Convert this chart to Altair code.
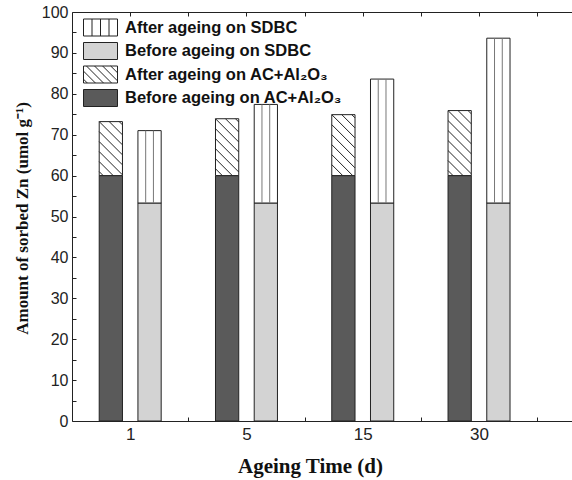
import json
import math
import altair as alt
import pandas as pd

# ---------------- data ----------------
days = ["1", "5", "15", "30"]
ac_before = [60.0, 60.0, 60.0, 60.0]
ac_after = [73.2, 73.9, 74.9, 75.9]
sdbc_before = [53.3, 53.3, 53.3, 53.3]
sdbc_after = [71.0, 77.4, 83.6, 93.6]

series = [
    "After ageing on SDBC",
    "Before ageing on SDBC",
    "After ageing on AC+Al₂O₃",
    "Before ageing on AC+Al₂O₃",
]
fills = ["#ffffff", "#d3d3d3", "#ffffff", "#5a5a5a"]

# ---------------- layout ----------------
W, H = 500, 409
X_DOM = [0.5, 4.8]
Y_DOM = [0, 100]
px_x = W / (X_DOM[1] - X_DOM[0])
px_y = H / (Y_DOM[1] - Y_DOM[0])
BAR_W = 0.2
AC_OFF = -0.266
SD_OFF = 0.067
HATCH_STEP = 10  # px

bars, vlines, diags = [], [], []
for i, d in enumerate(days):
    c = i + 1
    ax0 = c + AC_OFF
    ax1 = ax0 + BAR_W
    sx0 = c + SD_OFF
    sx1 = sx0 + BAR_W
    bars.append(dict(series=series[3], x0=ax0, x1=ax1, y0=0, y1=ac_before[i]))
    bars.append(dict(series=series[2], x0=ax0, x1=ax1, y0=ac_before[i], y1=ac_after[i]))
    bars.append(dict(series=series[1], x0=sx0, x1=sx1, y0=0, y1=sdbc_before[i]))
    bars.append(dict(series=series[0], x0=sx0, x1=sx1, y0=sdbc_before[i], y1=sdbc_after[i]))
    for k in (1, 2):
        vlines.append(dict(x=sx0 + BAR_W * k / 3, y0=sdbc_before[i], y1=sdbc_after[i]))
    w = BAR_W * px_x
    h = (ac_after[i] - ac_before[i]) * px_y
    for k in range(math.ceil(-h / HATCH_STEP), math.floor(w / HATCH_STEP) + 1):
        cc = k * HATCH_STEP
        u0 = max(0.0, cc)
        u1 = min(w, h + cc)
        if u1 - u0 < 0.5:
            continue
        v0, v1 = u0 - cc, u1 - cc
        diags.append(dict(xa=ax0 + u0 / px_x, xb=ax0 + u1 / px_x,
                          ya=ac_after[i] - v0 / px_y, yb=ac_after[i] - v1 / px_y))

bars_df = pd.DataFrame(bars)
vlines_df = pd.DataFrame(vlines)
diags_df = pd.DataFrame(diags)

# legend symbol paths: symbol size 17 px -> unit = 8.5 px; box x in [-1,3], y in [-1,1]
rect = "M-1,-1H3V1H-1Z"
vert = rect + " M0,-1V1 M1,-1V1 M2,-1V1"
dparts = [rect]
for cc in [-2.5, -1.55, -0.6, 0.35, 1.3, 2.25, 3.2]:
    a0 = max(-1.0, cc - 1.0)
    a1 = min(3.0, cc + 1.0)
    if a1 - a0 > 0.1:
        dparts.append(f"M{a0:.3f},{a0 - cc:.3f}L{a1:.3f},{a1 - cc:.3f}")
diag = " ".join(dparts)
paths = [vert, rect, diag, rect]

xscale = alt.Scale(domain=X_DOM, nice=False, zero=False)
yscale = alt.Scale(domain=Y_DOM, nice=False, zero=True)

half_vals = [1, 1.5, 2, 2.5, 3, 3.5, 4, 4.5]
label_expr = f"datum.value % 1 === 0 ? {json.dumps(days)}[datum.value - 1] : ''"

x_axis_bottom = alt.Axis(
    values=half_vals, labelExpr=label_expr, tickSize={"expr": "-4"},
    tickOpacity={"condition": {"test": "datum.value % 1 === 0", "value": 0}, "value": 1},
    tickColor="#222", domainColor="#222", domainWidth=1, grid=False,
    labelFont="Liberation Sans", labelFontSize=17, labelColor="#222", labelPadding=9,
    title="Ageing Time (d)", titleFont="Liberation Serif", titleFontSize=21,
    titleFontWeight="bold", titleColor="#111", titleX=238, titleY=51,
    titleBaseline="alphabetic", titleAlign="center",
)
x_axis_top = alt.Axis(
    orient="top", values=half_vals, labels=False, tickSize={"expr": "-4"},
    tickColor="#222", domainColor="#222", domainWidth=1, grid=False, title=None,
)
y_axis = alt.Axis(
    values=list(range(0, 101, 5)),
    labelExpr="datum.value % 10 === 0 ? datum.label : ''",
    tickSize={"expr": "-4"}, tickColor="#222", domainColor="#222", domainWidth=1,
    grid=False, labelFont="Liberation Sans", labelFontSize=16, labelColor="#222",
    labelPadding=8,
    title="Amount of sorbed Zn (umol g⁻¹)", titleFont="Liberation Serif",
    titleFontSize=17, titleFontWeight="bold", titleColor="#111",
    titleX=-50, titleY=206, titleAlign="center", titleBaseline="middle", titleAngle=270,
)

leg = alt.Legend(
    orient="none", legendX=11, legendY=6.5, title=None, symbolSize=289,
    symbolStrokeWidth=1, symbolStrokeColor="#222", labelFont="Liberation Sans",
    labelFontSize=16.5, labelFontWeight="bold", labelColor="#111", labelOffset=24,
    rowPadding=1.5, labelLimit=400, padding=0,
)

legend_layer = alt.Chart(pd.DataFrame({"series": series})).mark_point(
    filled=True, opacity=1, clip=True, strokeWidth=1
).encode(
    x=alt.value(-300), y=alt.value(-300),
    fill=alt.Fill("series:N", scale=alt.Scale(domain=series, range=fills), legend=leg, sort=series),
    shape=alt.Shape("series:N", scale=alt.Scale(domain=series, range=paths), legend=leg, sort=series),
    stroke=alt.Stroke("series:N", scale=alt.Scale(domain=series, range=["#222"] * 4), legend=leg, sort=series),
)

bar_layer = alt.Chart(bars_df).mark_bar(stroke="#222", strokeWidth=1).encode(
    x=alt.X("x0:Q", scale=xscale, axis=x_axis_bottom),
    x2="x1:Q",
    y=alt.Y("y0:Q", scale=yscale, axis=y_axis),
    y2="y1:Q",
    color=alt.Color("series:N", scale=alt.Scale(domain=series, range=fills), legend=None),
)

vline_layer = alt.Chart(vlines_df).mark_rule(color="#777", strokeWidth=1).encode(
    x=alt.X("x:Q", scale=xscale, axis=x_axis_top),
    y=alt.Y("y0:Q", scale=yscale, axis=None),
    y2="y1:Q",
)

diag_layer = alt.Chart(diags_df).mark_rule(color="#222", strokeWidth=1).encode(
    x=alt.X("xa:Q", scale=xscale, axis=None),
    x2="xb:Q",
    y=alt.Y("ya:Q", scale=yscale, axis=None),
    y2="yb:Q",
)

chart = (
    alt.layer(legend_layer, bar_layer, vline_layer, diag_layer)
    .resolve_axis(x="independent", y="independent")
    .properties(
        width=W, height=H,
        autosize=alt.AutoSizeParams(type="none"),
        padding={"left": 72, "top": 12, "right": 0, "bottom": 59},
        background="white",
    )
    .configure_view(strokeWidth=0)
)

chart.save("out.html", embed_options={"renderer": "svg", "actions": False})
